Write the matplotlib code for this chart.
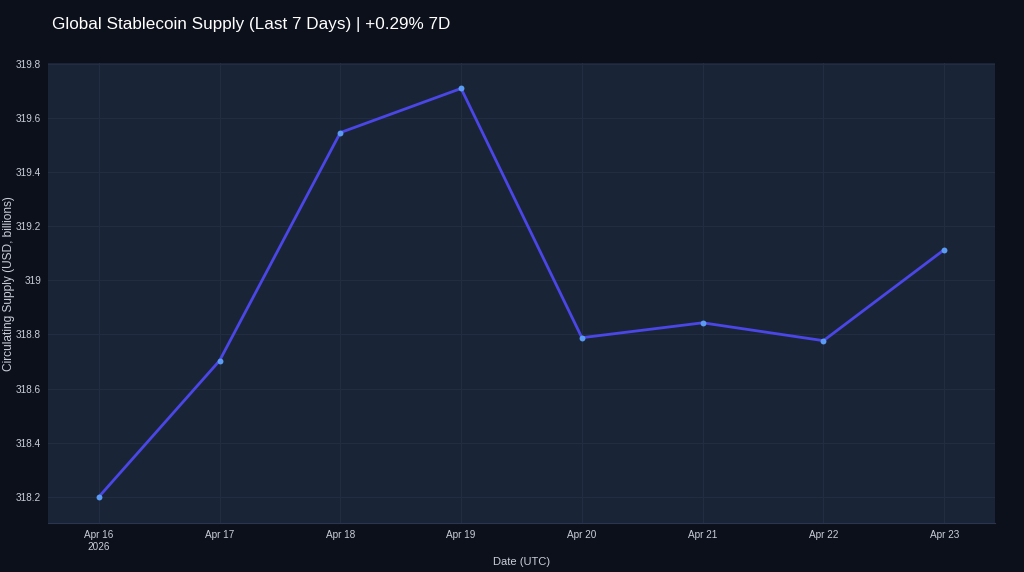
import matplotlib
matplotlib.use("Agg")
import matplotlib.pyplot as plt
import matplotlib.dates as mdates
import numpy as np
import datetime as dt

plt.rcParams['font.family'] = ['Liberation Sans', 'DejaVu Sans']

dates = [dt.date(2026, 4, d) for d in range(16, 24)]
supply = [318.200, 318.703, 319.545, 319.708, 318.788, 318.843, 318.777, 319.113]
tick_labels = ["Apr 16\n2026", "Apr 17", "Apr 18", "Apr 19", "Apr 20", "Apr 21", "Apr 22", "Apr 23"]
yticks = [318.2, 318.4, 318.6, 318.8, 319.0, 319.2, 319.4, 319.6, 319.8]
ytick_labels = ["318.2", "318.4", "318.6", "318.8", "319", "319.2", "319.4", "319.6", "319.8"]

fig_bg = "#0c101b"
ax_bg = "#1a2437"
grid_c = "#222d42"
text_c = "#c9ced8"

fig = plt.figure(figsize=(10.24, 5.72), dpi=100, facecolor=fig_bg)
ax = fig.add_axes([48/1024, 1-523/572, (995-48)/1024, (523-63)/572])
ax.set_facecolor(ax_bg)

xs = mdates.date2num(dates)
ax.plot(xs, supply, color="#4b46e6", lw=2.0, zorder=3)
ax.scatter(xs, supply, s=18, color="#5b9cf2", zorder=4, linewidths=0)

ax.set_xlim(xs[0] - 0.42, xs[-1] + 0.42)
ax.set_ylim(318.104, 319.802)
ax.set_xticks(xs)
ax.set_xticklabels(tick_labels)
ax.set_yticks(yticks)
ax.set_yticklabels(ytick_labels)
ax.grid(True, color=grid_c, lw=0.8)
ax.set_axisbelow(True)
for s in ax.spines.values():
    s.set_visible(False)
ax.spines['bottom'].set_visible(True)
ax.spines['bottom'].set_color("#2a3650")
ax.tick_params(axis='both', length=0, colors=text_c, labelsize=7.2)
ax.tick_params(axis='x', pad=5)
ax.tick_params(axis='y', pad=5)

ax.set_xlabel("Date (UTC)", color=text_c, fontsize=8, labelpad=4)
fig.text(9/1024, 1-284/572, "Circulating Supply (USD, billions)", color=text_c,
         fontsize=8.6, rotation=90, ha="center", va="center")

fig.text(52/1024, 1-25/572, "Global Stablecoin Supply (Last 7 Days) | +0.29% 7D",
         color="#ffffff", fontsize=12.3, va="center", ha="left")

fig.savefig("out.png", dpi=100, facecolor=fig_bg)
